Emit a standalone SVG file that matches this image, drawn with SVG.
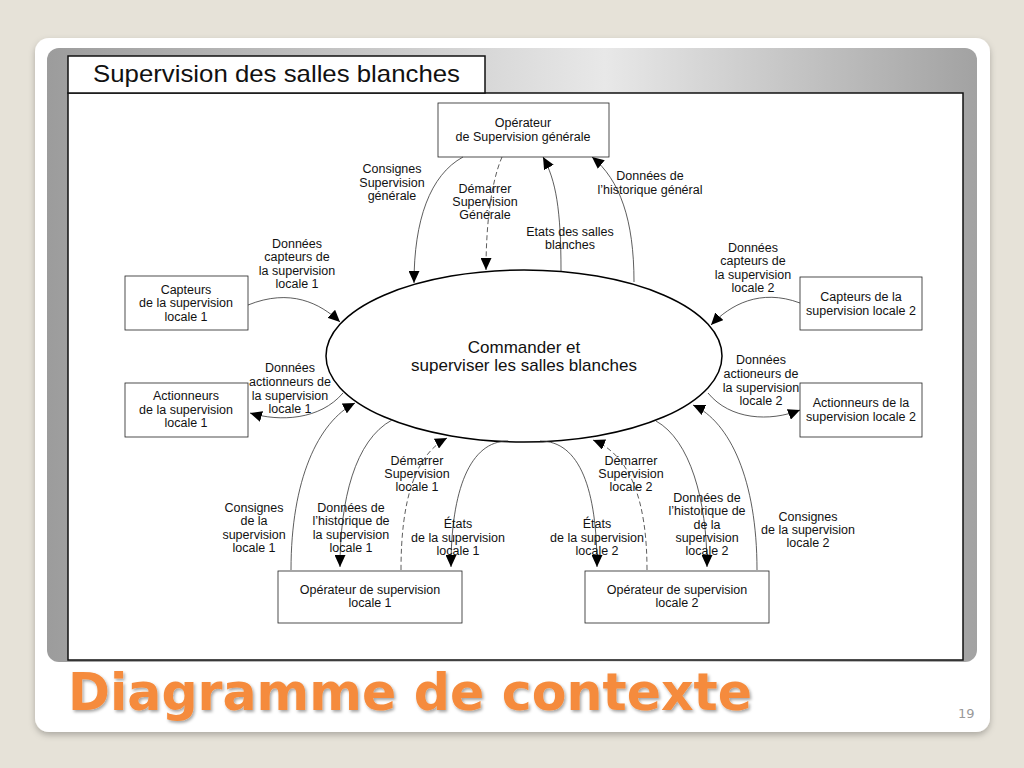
<svg xmlns="http://www.w3.org/2000/svg" width="1024" height="768" viewBox="0 0 1024 768">
<defs>
<linearGradient id="panel" x1="0" y1="0" x2="1" y2="0">
<stop offset="0" stop-color="#9c9c9c"/>
<stop offset="0.6" stop-color="#e8e8e8"/>
<stop offset="1" stop-color="#a2a2a2"/>
</linearGradient>
<filter id="shadow" x="-5%" y="-5%" width="110%" height="110%">
<feDropShadow dx="0" dy="3" stdDeviation="3" flood-color="#000" flood-opacity="0.25"/>
</filter>
<filter id="tshadow" x="-5%" y="-20%" width="110%" height="140%">
<feDropShadow dx="1.5" dy="2" stdDeviation="1.5" flood-color="#000" flood-opacity="0.35"/>
</filter>
<marker id="arr" markerUnits="userSpaceOnUse" markerWidth="13" markerHeight="11" refX="12" refY="5.5" orient="auto">
<path d="M0,0 L12,5.5 L0,11 Z" fill="#000"/>
</marker>
</defs>
<style>
.box{fill:#fff;stroke:#222;stroke-width:0.8}
.t{font-family:"Liberation Sans",Arial,sans-serif;font-size:12.5px;fill:#111;text-anchor:middle}
.c{fill:none;stroke:#333;stroke-width:0.8;marker-end:url(#arr)}
.d{stroke-dasharray:5,3}
</style>
<rect width="1024" height="768" fill="#e6e2d8"/>
<rect x="35" y="38" width="955" height="694" rx="14" fill="#fff" filter="url(#shadow)"/>
<rect x="47" y="48" width="930" height="614" rx="12" fill="url(#panel)"/>
<rect x="68" y="93" width="895" height="567" fill="#fff" stroke="#111" stroke-width="1.5"/>
<rect x="68" y="56" width="417" height="37" fill="#fff" stroke="#111" stroke-width="1.5"/>
<text x="93" y="82" font-family="Liberation Sans,Arial,sans-serif" font-size="24" fill="#111" textLength="367" lengthAdjust="spacingAndGlyphs">Supervision des salles blanches</text>

<g id="process">
<ellipse cx="524" cy="356" rx="198" ry="86" fill="#fff" stroke="#000" stroke-width="1.5"/>
<text class="t" x="524" y="353" style="font-size:17px">Commander et</text>
<text class="t" x="524" y="371" style="font-size:17px">superviser les salles blanches</text>
</g>

<g id="op-general">
<rect class="box" x="438" y="103" width="171" height="54"/>
<text class="t" x="523" y="127">Opérateur</text>
<text class="t" x="523" y="141">de Supervision générale</text>
</g>
<g id="capteurs1">
<rect class="box" x="125" y="276" width="123" height="54"/>
<text class="t" x="186" y="294">Capteurs</text>
<text class="t" x="186" y="307">de la supervision</text>
<text class="t" x="186" y="321">locale 1</text>
</g>
<g id="actionneurs1">
<rect class="box" x="125" y="383" width="123" height="54"/>
<text class="t" x="186" y="400">Actionneurs</text>
<text class="t" x="186" y="414">de la supervision</text>
<text class="t" x="186" y="427">locale 1</text>
</g>
<g id="capteurs2">
<rect class="box" x="800" y="277" width="122" height="53"/>
<text class="t" x="861" y="301">Capteurs de la</text>
<text class="t" x="861" y="315">supervision locale 2</text>
</g>
<g id="actionneurs2">
<rect class="box" x="800" y="383" width="122" height="54"/>
<text class="t" x="861" y="407">Actionneurs de la</text>
<text class="t" x="861" y="421">supervision locale 2</text>
</g>
<g id="op-local1">
<rect class="box" x="278" y="571" width="184" height="52"/>
<text class="t" x="370" y="594">Opérateur de supervision</text>
<text class="t" x="370" y="607">locale 1</text>
</g>
<g id="op-local2">
<rect class="box" x="585" y="571" width="184" height="52"/>
<text class="t" x="677" y="594">Opérateur de supervision</text>
<text class="t" x="677" y="607">locale 2</text>
</g>

<g id="connectors">
<path class="c" d="M463,157 C430,175 414,220 414,283"/>
<path class="c d" d="M502,157 C490,185 486,230 486,270"/>
<path class="c" d="M561,271 C561,210 556,180 543,157"/>
<path class="c" d="M634,282 C634,220 620,180 592,157"/>
<path class="c" d="M248,305 C290,288 320,303 340,322"/>
<path class="c" d="M343,393 C320,420 280,422 250,413"/>
<path class="c" d="M800,303 C760,288 730,305 711,325"/>
<path class="c" d="M708,393 C730,420 770,422 800,410"/>
<path class="c" d="M291,570 C291,480 318,422 355,403"/>
<path class="c" d="M392,420 C355,440 340,500 340,567"/>
<path class="c d" d="M401,570 C401,500 415,455 447,438"/>
<path class="c" d="M508,441 C470,441 451,490 451,567"/>
<path class="c" d="M540,441 C580,441 597,490 597,567"/>
<path class="c d" d="M647,570 C647,500 630,455 593,440"/>
<path class="c" d="M656,421 C690,440 707,500 707,567"/>
<path class="c" d="M757,570 C757,480 730,422 693,405"/>
</g>

<g id="labels">
<text class="t" x="392" y="173">Consignes</text>
<text class="t" x="392" y="187">Supervision</text>
<text class="t" x="392" y="200">générale</text>
<text class="t" x="485" y="193">Démarrer</text>
<text class="t" x="485" y="206">Supervision</text>
<text class="t" x="485" y="219">Générale</text>
<text class="t" x="570" y="236">Etats des salles</text>
<text class="t" x="570" y="249">blanches</text>
<text class="t" x="650" y="180">Données de</text>
<text class="t" x="650" y="194">l’historique général</text>
<text class="t" x="297" y="248">Données</text>
<text class="t" x="297" y="261">capteurs de</text>
<text class="t" x="297" y="275">la supervision</text>
<text class="t" x="297" y="288">locale 1</text>
<text class="t" x="290" y="372">Données</text>
<text class="t" x="290" y="386">actionneurs de</text>
<text class="t" x="290" y="400">la supervision</text>
<text class="t" x="290" y="413">locale 1</text>
<text class="t" x="753" y="252">Données</text>
<text class="t" x="753" y="265">capteurs de</text>
<text class="t" x="753" y="279">la supervision</text>
<text class="t" x="753" y="292">locale 2</text>
<text class="t" x="761" y="364">Données</text>
<text class="t" x="761" y="378">actioneurs de</text>
<text class="t" x="761" y="392">la supervision</text>
<text class="t" x="761" y="405">locale 2</text>
<text class="t" x="254" y="512">Consignes</text>
<text class="t" x="254" y="525">de la</text>
<text class="t" x="254" y="539">supervision</text>
<text class="t" x="254" y="552">locale 1</text>
<text class="t" x="351" y="512">Données de</text>
<text class="t" x="351" y="525">l’historique de</text>
<text class="t" x="351" y="539">la supervision</text>
<text class="t" x="351" y="552">locale 1</text>
<text class="t" x="417" y="465">Démarrer</text>
<text class="t" x="417" y="478">Supervision</text>
<text class="t" x="417" y="491">locale 1</text>
<text class="t" x="458" y="528">États</text>
<text class="t" x="458" y="542">de la supervision</text>
<text class="t" x="458" y="555">locale 1</text>
<text class="t" x="631" y="465">Démarrer</text>
<text class="t" x="631" y="478">Supervision</text>
<text class="t" x="631" y="491">locale 2</text>
<text class="t" x="597" y="528">États</text>
<text class="t" x="597" y="542">de la supervision</text>
<text class="t" x="597" y="555">locale 2</text>
<text class="t" x="707" y="502">Données de</text>
<text class="t" x="707" y="515">l’historique de</text>
<text class="t" x="707" y="529">de la</text>
<text class="t" x="707" y="542">supervision</text>
<text class="t" x="707" y="555">locale 2</text>
<text class="t" x="808" y="521">Consignes</text>
<text class="t" x="808" y="534">de la supervision</text>
<text class="t" x="808" y="547">locale 2</text>
</g>

<text x="68" y="710" font-family="DejaVu Sans,Verdana,sans-serif" font-weight="bold" font-size="51" fill="#f58b3c" filter="url(#tshadow)" textLength="684" lengthAdjust="spacingAndGlyphs">Diagramme de contexte</text>
<text x="958" y="718" font-family="DejaVu Sans,sans-serif" font-size="13" fill="#999">19</text>
</svg>
